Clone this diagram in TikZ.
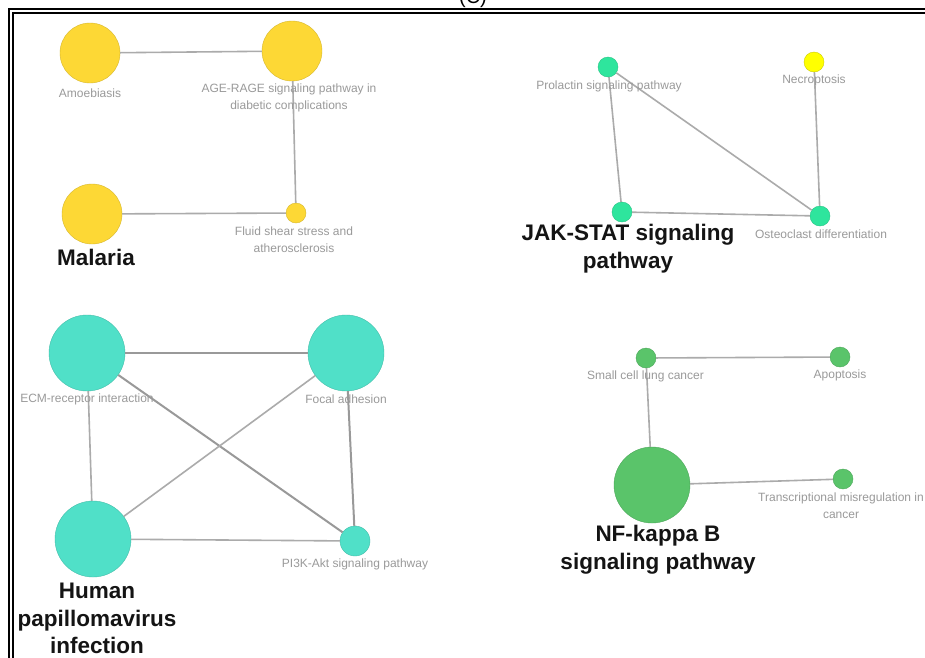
\documentclass[tikz,border=0pt]{standalone}
\usepackage{fontspec}
\setmainfont{Liberation Sans}
\definecolor{maizeYellow}{HTML}{FDD835}
\definecolor{lemonYellow}{HTML}{FFFF00}
\definecolor{jakGreen}{HTML}{2EE59D}
\definecolor{hpvTeal}{HTML}{50E0C8}
\definecolor{nfkbGreen}{HTML}{5AC46A}
\definecolor{linkGray}{HTML}{ABABAB}
\definecolor{tagGray}{HTML}{9A9A9A}
\begin{document}
\begin{tikzpicture}[x=1pt, y=-1pt,
        pathnode/.style={circle, inner sep=0pt, minimum size=#1, line width=0.4pt},
        tag/.style={font=\fontsize{12}{17}\selectfont, text=tagGray,
                    align=center, inner sep=0pt},
        hub/.style={font=\bfseries\fontsize{22.5}{28}\selectfont, text=black!92,
                    align=center, inner sep=0pt},
        link/.style={draw=linkGray, line width=1.6pt},
        heavylink/.style={draw=black!40, line width=2pt},
    ]
        \useasboundingbox (0,0) rectangle (925,657);
        \fill[white] (0,0) rectangle (925,657);
        \node[font=\fontsize{20}{24}\selectfont, anchor=base] (panel) at (473,3) {(C)};
        \draw[line width=2.2pt] (8.8,8.8) rectangle (945,680);
        \draw[line width=1.2pt] (13,13) rectangle (940,675);

        \node[pathnode=60, fill=maizeYellow, draw=maizeYellow!85!black] (amoeb) at (90,53) {};
        \node[pathnode=60, fill=maizeYellow, draw=maizeYellow!85!black] (agerage) at (292,51) {};
        \node[pathnode=20, fill=maizeYellow, draw=maizeYellow!85!black] (fluid) at (296,213) {};
        \node[pathnode=60, fill=maizeYellow, draw=maizeYellow!85!black] (malaria) at (92,214) {};
        \draw[link] (amoeb) -- (agerage);
        \draw[link] (agerage) -- (fluid);
        \draw[link] (malaria) -- (fluid);
        \node[tag] (amoebtag) at (90,93) {Amoebiasis};
        \node[tag] (ageragetag) at (289,98) {AGE-RAGE signaling pathway in\\diabetic complications};
        \node[tag] (fluidtag) at (294,240) {Fluid shear stress and\\atherosclerosis};
        \node[hub] (malariatag) at (96,257) {Malaria};

        \node[pathnode=20, fill=jakGreen, draw=jakGreen!85!black] (prolactin) at (608,67) {};
        \node[pathnode=20, fill=lemonYellow, draw=lemonYellow!80!black] (necro) at (814,62) {};
        \node[pathnode=20, fill=jakGreen, draw=jakGreen!85!black] (jakstat) at (622,212) {};
        \node[pathnode=20, fill=jakGreen, draw=jakGreen!85!black] (osteo) at (820,216) {};
        \draw[link] (prolactin) -- (jakstat);
        \draw[link] (prolactin) -- (osteo);
        \draw[link] (jakstat) -- (osteo);
        \draw[link] (necro) -- (osteo);
        \node[tag] (prolactintag) at (609,86) {Prolactin signaling pathway};
        \node[tag] (necrotag) at (814,80) {Necroptosis};
        \node[tag] (osteotag) at (821,234) {Osteoclast differentiation};
        \node[hub] (jakstattag) at (628,248.5) {JAK-STAT signaling\\pathway};

        \node[pathnode=76, fill=hpvTeal, draw=hpvTeal!85!black] (ecm) at (87,353) {};
        \node[pathnode=76, fill=hpvTeal, draw=hpvTeal!85!black] (focal) at (346,353) {};
        \node[pathnode=76, fill=hpvTeal, draw=hpvTeal!85!black] (hpv) at (93,539) {};
        \node[pathnode=30, fill=hpvTeal, draw=hpvTeal!85!black] (pik) at (355,541) {};
        \draw[heavylink] (ecm) -- (focal);
        \draw[link] (ecm) -- (hpv);
        \draw[heavylink] (ecm) -- (pik);
        \draw[link] (focal) -- (hpv);
        \draw[heavylink] (focal) -- (pik);
        \draw[link] (hpv) -- (pik);
        \node[tag] (ecmtag) at (87,399) {ECM-receptor interaction};
        \node[tag] (focaltag) at (346,399) {Focal adhesion};
        \node[tag] (piktag) at (355,564) {PI3K-Akt signaling pathway};
        \node[hub, font=\bfseries\fontsize{22.5}{27.5}\selectfont] (hpvtag) at (97,618.5)
            {Human\\papillomavirus\\infection};

        \node[pathnode=20, fill=nfkbGreen, draw=nfkbGreen!85!black] (sclc) at (646,358) {};
        \node[pathnode=20, fill=nfkbGreen, draw=nfkbGreen!85!black] (apopt) at (840,357) {};
        \node[pathnode=76, fill=nfkbGreen, draw=nfkbGreen!85!black] (nfkb) at (652,485) {};
        \node[pathnode=20, fill=nfkbGreen, draw=nfkbGreen!85!black] (transc) at (843,479) {};
        \draw[link] (sclc) -- (apopt);
        \draw[link] (sclc) -- (nfkb);
        \draw[link] (nfkb) -- (transc);
        \node[tag] (sclctag) at (645.5,376) {Small cell lung cancer};
        \node[tag] (apopttag) at (840,375) {Apoptosis};
        \node[tag] (transctag) at (841,505.5) {Transcriptional misregulation in\\cancer};
        \node[hub] (nfkbtag) at (658,550) {NF-kappa B\\signaling pathway};
    \end{tikzpicture}
\end{document}
